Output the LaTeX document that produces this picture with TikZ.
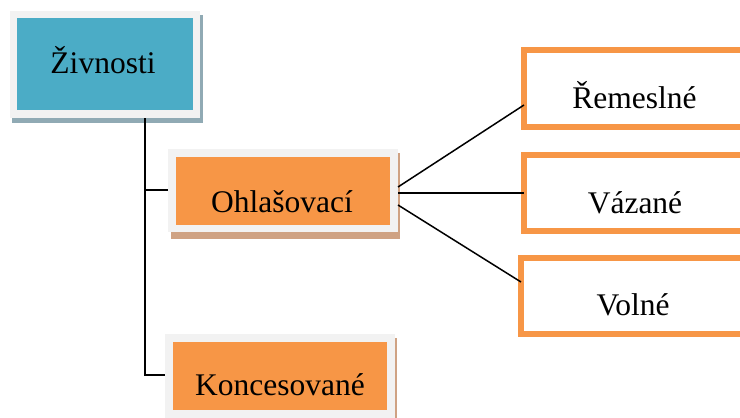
\documentclass[tikz,border=0pt]{standalone}
\usepackage{fontspec}
\setmainfont{Liberation Serif}
\definecolor{teal1}{HTML}{4BACC6}
\definecolor{orange1}{HTML}{F79646}
\definecolor{paleg}{HTML}{F2F2F2}
\definecolor{tshadow}{HTML}{90AAB4}
\definecolor{oshadow}{HTML}{CFA283}
\begin{document}
\begin{tikzpicture}[x=1pt,y=-1pt,
  box/.style={rectangle,inner sep=0pt,outer sep=0pt},
  lbl/.style={anchor=base,inner sep=0pt,font=\fontsize{31.5}{36}\selectfont},
  conn/.style={draw=black,line width=1.5pt},
  obox/.style={draw=orange1,line width=6pt,fill=white}]
\clip (0,0) rectangle (740,418);
% Zivnosti
\fill[tshadow] (12,15) rectangle (203,123);
\node[box,fill=paleg,minimum width=190pt,minimum height=107pt] (ziv) at (105,64.5) {};
\node[box,fill=teal1,minimum width=176pt,minimum height=92pt] (zivin) at (105,64) {};
\node[lbl] (zivt) at (103,73) {Živnosti};
% Ohlasovaci
\fill[oshadow] (171,153) rectangle (400,239);
\node[box,fill=paleg,minimum width=230pt,minimum height=83pt] (ohl) at (283,190.5) {};
\node[box,fill=orange1,minimum width=214pt,minimum height=68pt] (ohlin) at (283,191) {};
\node[lbl] (ohlt) at (282,212) {Ohlašovací};
% Koncesovane
\fill[oshadow] (168,338) rectangle (397,430);
\node[box,fill=paleg,minimum width=230pt,minimum height=92pt] (kon) at (280,380) {};
\node[box,fill=orange1,minimum width=214pt,minimum height=68pt] (konin) at (280,376) {};
\node[lbl] (kont) at (280,395) {Koncesované};
% right boxes
\node[box,obox,minimum width=240pt,minimum height=77pt] (rem) at (644,88.5) {};
\node[lbl] (remt) at (634.5,108) {Řemeslné};
\node[box,obox,minimum width=240pt,minimum height=76pt] (vaz) at (644,193) {};
\node[lbl] (vazt) at (635,213) {Vázané};
\node[box,obox,minimum width=240pt,minimum height=76pt] (vol) at (641,296) {};
\node[lbl] (volt) at (633,315) {Volné};
% connectors
\draw[conn] (ziv.south -| 145,0) -- (145,375) -- (kon.west |- 0,375);
\draw[conn] (145,190) -- (ohl.west |- 0,190);
\draw[conn] (ohl.east |- 0,187) -- (rem.west |- 0,105);
\draw[conn] (ohl.east |- 0,193) -- (vaz.west |- 0,193);
\draw[conn] (ohl.east |- 0,205) -- (vol.west |- 0,282);
\end{tikzpicture}
\end{document}
